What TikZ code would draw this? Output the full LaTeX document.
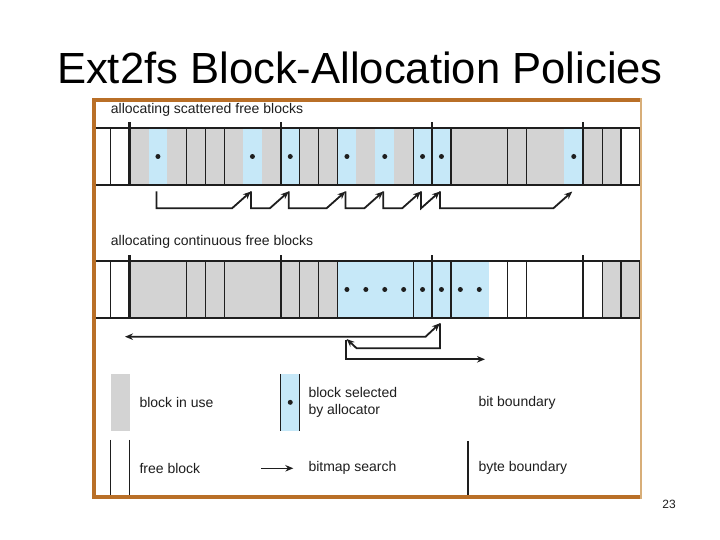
\documentclass[tikz,border=0pt]{standalone}
\usepackage{fontspec}
\setmainfont{Liberation Sans}
\usepackage{xcolor}
\definecolor{rimbrown}{HTML}{B96F27}
\definecolor{rimtan}{HTML}{D8AE78}
\definecolor{usegray}{HTML}{D3D3D3}
\definecolor{pickblue}{HTML}{C6E8F8}
\definecolor{ink}{HTML}{1E1E1E}
\usepackage{tikz}
\usetikzlibrary{positioning,arrows.meta,calc}

\begin{document}
\begin{tikzpicture}[x=1pt, y=1pt,
    every node/.style={font=\fontsize{14}{16.7}\selectfont, text=ink},
    blk/.style={minimum width=18.9pt, minimum height=57pt, inner sep=0pt,
                outer sep=0pt},
    blkF/.style={blk},
    blkU/.style={blk, fill=usegray},
    blkS/.style={blk, fill=pickblue},
    rail/.style={draw=ink, line width=2.4pt},
    sep/.style={draw=ink, line width=1.2pt},
    bytesep/.style={draw=ink, line width=2.4pt},
    lbl/.style={anchor=west, inner sep=0pt, align=left},
    arr/.style={-{Stealth[length=8pt, width=6.5pt]}, line width=1.8pt, draw=ink},
    biarr/.style={{Stealth[length=8pt, width=6.5pt]}-{Stealth[length=8pt, width=6.5pt]},
                  line width=1.8pt, draw=ink}]
  \useasboundingbox (0,0) rectangle (720,540);
  \fill[white] (0,0) rectangle (720,540);

  \node[font=\fontsize{43.6}{50}\selectfont, anchor=base, text=black] (head) at (360,456)
    {Ext2fs Block-Allocation Policies};

  \node[lbl] (scatTxt) at (110.7,430) {allocating scattered free blocks};
  \foreach \k [count=\i from 0] in {F,F,U,S,U,U,U,U,S,U,S,U,U,S,U,S,U,S,S,U,U,U,U,U,U,S,U,U,F}
    \node[blk\k] (a\i) at (101.25+18.9*\i,383.5) {};
  \foreach \i in {3,8,10,13,15,17,18,25}
    \fill[ink] (a\i) circle (2.5);

  \node[lbl] (contTxt) at (110.7,298.3) {allocating continuous free blocks};
  \foreach \k [count=\i from 0] in {F,F,U,U,U,U,U,U,U,U,U,U,U,S,S,S,S,S,S,S,S,F,F,F,F,F,F,U,U}
    \node[blk\k] (b\i) at (101.25+18.9*\i,250.5) {};
  \foreach \i in {13,...,20}
    \fill[ink] (b\i) circle (2.5);

  \foreach \s in {a,b} {
    \draw[rail] (\s0.north west) -- (\s28.north east) (\s0.south west) -- (\s28.south east);
    \foreach \i in {1,5,6,7,11,12,13,17,19,22,23,27,28}
      \draw[sep] (\s\i.south west) -- (\s\i.north west);
    \draw[sep] (\s28.south east) -- (\s28.north east);
    \foreach \i/\w in {2/2.4,10/2.4,18/1.3,26/2.4}
      \draw[bytesep, line width=\w pt] (\s\i.south west) -- ([yshift=6pt]\s\i.north west);
  }

  \foreach \i/\k/\j in {3/7/8, 8/9/10, 10/12/13, 13/14/15, 15/16/17, 17/17/18, 18/24/25}
    \draw[arr] ($(a\i.south)+(-1.5,-6.5)$) -- ++(0,-16.8)
      -- ($(a\k.south)+(-1.5,-23.3)$) -- ($(a\j.south)+(-1.5,-6.5)$);

  \draw[biarr] ($(b1.south east)+(-4.6,-18.7)$) -- ($(b17.south)+(3,-18.7)$)
    -- ($(b18.south)+(-1.5,-5.3)$);
  \draw[arr] ($(b18.south)+(-1.5,-5.3)$) -- ++(0,-25)
    -- ($(b13.south)+(9.7,-30.3)$) -- ($(b13.south)+(-0.3,-21)$);
  \draw[arr] ($(b13.south)+(-1.3,-22)$) |- ($(b20.south east)+(-3.7,-41.3)$);

  \node[blkU, minimum height=56.7pt] (keyUse) at (120.15,137.65) {};
  \node[lbl] (keyUseTxt) at (139.3,137.3) {block in use};
  \node[blkS, minimum height=56.7pt] (keySel) at (290.25,137.65) {};
  \draw[sep, line width=0.8pt] (keySel.north west) -- (keySel.south west)
    (keySel.north east) -- (keySel.south east);
  \fill[ink] (keySel) circle (2.5);
  \node[lbl] (keySelTxt) at (308.3,137.3) {block selected\\by allocator};
  \node[lbl] (keyBitTxt) at (478.3,136.7) {bit boundary};

  \node[blkF, minimum height=57.5pt] (keyFree) at (120.15,71.25) {};
  \draw[sep] (keyFree.north west) -- (keyFree.south west)
    (keyFree.north east) -- (keyFree.south east);
  \node[lbl] (keyFreeTxt) at (139.3,71.7) {free block};
  \node[lbl] (keySrchTxt) at (308.3,71.7) {bitmap search};
  \draw[arr, line width=1.1pt] ([xshift=-47.3pt]keySrchTxt.west) -- ([xshift=-15pt]keySrchTxt.west);
  \node[lbl] (keyByteTxt) at (478.3,71.7) {byte boundary};
  \coordinate (keyByte) at (467.7,99);
  \draw[bytesep] (keyByte) -- (keyByte |- 0,42.5);

  \draw[draw=rimbrown, line width=4pt] (640,439.7) -- (93.7,439.7) -- (93.7,42.5) -- (640,42.5);
  \draw[draw=rimtan, line width=2pt] (640.5,441.7) -- (640.5,40.5);

  \node[font=\fontsize{12}{14}\selectfont] (pageNo) at (669,36) {23};
\end{tikzpicture}
\end{document}
